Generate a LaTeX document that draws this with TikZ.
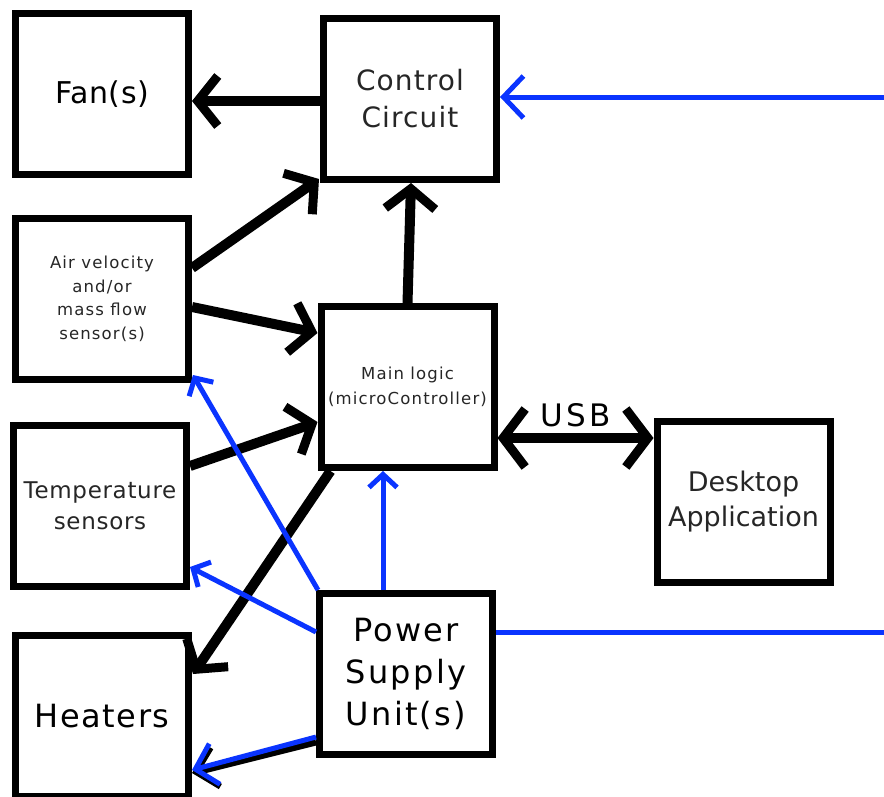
\documentclass[tikz,border=0pt]{standalone}
\usepackage{fontspec}
\setmainfont{DejaVu Sans}
\usetikzlibrary{arrows.meta}
\definecolor{wire}{RGB}{10,52,255}
% size, baseline skip, letter spacing
\newcommand{\fs}[3]{\fontsize{#1}{#2}\selectfont\addfontfeature{LetterSpace=#3}}
\tikzset{
  block/.style={draw, line width=7pt, minimum width=173pt, minimum height=161pt,
    inner sep=0pt, align=center, text=black!85},
  sig/.style={line width=10pt, -{Straight Barb[length=20pt, width=50pt, line width=9pt]}},
  sigboth/.style={line width=10pt, {Straight Barb[length=22pt, width=58pt, line width=9pt]}-{Straight Barb[length=22pt, width=58pt, line width=9pt]}},
  pwr/.style={wire, line width=5pt},
  pwrbig/.style={pwr, -{Straight Barb[length=20pt, width=42pt, line width=5pt]}},
  pwrsmall/.style={pwr, -{Straight Barb[length=13pt, width=28pt, line width=5pt]}},
}
\begin{document}
\begin{tikzpicture}[x=1pt, y=-1pt]
\useasboundingbox (0,0) rectangle (884,796);

% blocks
\node[block, text=black, font=\fs{30}{36}{2}] (fan) at (102,94) {Fan(s)};
\node[block, font=\fs{28}{37}{4}] (ctrl) at (410,99) {Control\\Circuit};
\node[block, font=\fs{16.5}{23.5}{7}] (air) at (102,299) {Air velocity\\and/or\\mass flow\\sensor(s)};
\node[block, font=\fs{16.5}{25}{7}] (main) at (407.5,387) {\raisebox{-3pt}{\begin{tabular}{@{}c@{}}Main logic\\(microController)\end{tabular}}};
\node[block, font=\fs{23}{31}{3}] (temp) at (100,506) {Temperature\\sensors};
\node[block, text=black, font=\fs{32}{38}{5}] (heat) at (102,716) {Heaters};
\node[block, text=black, font=\fs{32}{42}{7}] (psu) at (406,674) {Power\\Supply\\Unit(s)};
\node[block, font=\fs{27}{35}{0}] (desk) at (743.5,501.5) {Desktop\\Application};

% free ends of the supply wires
\coordinate (ctrlin) at (884,97);
\coordinate (psuout) at (884,632);

% signal paths
\draw[sig] ([yshift=-2pt]ctrl.west) -- ([yshift=-7pt]fan.east);
\draw[sig] ([yshift=31pt]air.east) -- ([xshift=-1pt,yshift=4pt]ctrl.south west);
\draw[sig] ([yshift=-8pt]air.east) -- ([yshift=54pt]main.west);
\draw[sig] ([yshift=40pt]temp.east) -- ([yshift=-35pt]main.west);
\draw[sig] (main.north) -- ([xshift=1pt]ctrl.south);
\draw[sig] ([xshift=13pt]main.south west) -- ([xshift=1pt,yshift=-42pt]heat.north east);
\draw[sigboth] ([yshift=-51pt]main.east) -- node[above=3pt, font=\fs{31}{36}{10}, text=black] (usb) {USB} ([yshift=63.5pt]desk.west);

% power / control wires
\draw[pwrbig] (ctrlin) -- ([yshift=2pt]ctrl.east);
\draw[pwr] ([yshift=42pt]psu.east) -- (psuout);
\draw[pwrsmall] ([xshift=-23pt]psu.north) -- ([xshift=-24.5pt]main.south);
\draw[pwrsmall] ([xshift=2pt]psu.north west) -- ([xshift=1pt,yshift=8pt]air.south east);
\draw[pwrsmall] ([yshift=42pt]psu.west) -- ([yshift=23pt]temp.south east);
\draw[line width=7pt, -{Straight Barb[length=20pt, width=40pt, line width=6pt]}]
  ([yshift=-68pt]psu.west) -- ([yshift=-57pt]heat.east);
\draw[pwrbig] ([yshift=-63pt]psu.west) -- ([yshift=-54pt]heat.east);
\end{tikzpicture}
\end{document}
